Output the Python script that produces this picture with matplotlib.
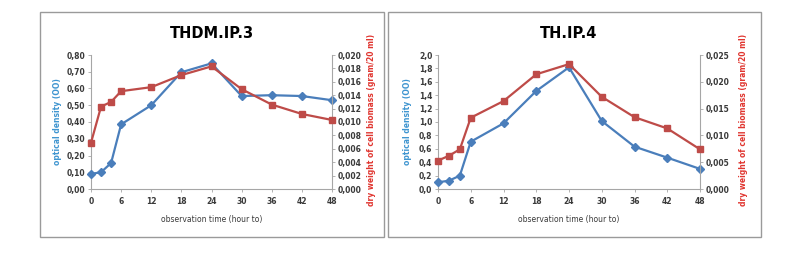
import numpy as np
import matplotlib.pyplot as plt
from matplotlib.patches import Rectangle

# data
hours = [0, 2, 4, 6, 12, 18, 24, 30, 36, 42, 48]

od_thdm = [0.09, 0.10, 0.155, 0.386, 0.50, 0.697, 0.75, 0.555, 0.56, 0.555, 0.53]
bio_thdm = [0.0069, 0.0123, 0.0130, 0.0146, 0.0152, 0.0170, 0.0183, 0.0149, 0.0126, 0.0112, 0.0103]

od_th = [0.10, 0.124, 0.199, 0.706, 0.98, 1.463, 1.816, 1.015, 0.632, 0.468, 0.30]
bio_th = [0.0053, 0.0062, 0.0074, 0.0133, 0.0164, 0.0214, 0.0233, 0.0172, 0.0134, 0.0113, 0.0074]

xticks = [0, 6, 12, 18, 24, 30, 36, 42, 48]

W, H = 806, 257
fig = plt.figure(figsize=(W / 100, H / 100), dpi=100)

blue = '#4A7EBB'
red = '#BE4B48'
grey = '#A6A6A6'
txt = '#3A3A3A'


def box(x0, y0, x1, y1):
    fig.patches.append(Rectangle((x0 / W, 1 - y1 / H), (x1 - x0) / W, (y1 - y0) / H,
                                 transform=fig.transFigure, fill=False,
                                 edgecolor='#9A9A9A', linewidth=1.0))


def panel(x0, x1, title, od, bio, od_max, od_step, od_fmt, bio_max, bio_step, bio_fmt, ylx, yrx):
    top, bot = 55, 189
    ax = fig.add_axes([x0 / W, 1 - bot / H, (x1 - x0) / W, (bot - top) / H])
    ax2 = ax.twinx()
    ax.plot(hours, od, color=blue, lw=1.6, marker='D', ms=4, mfc=blue, mec=blue, zorder=3, clip_on=False)
    ax2.plot(hours, bio, color=red, lw=1.6, marker='s', ms=5, mfc=red, mec=red, zorder=3, clip_on=False)
    ax.set_xlim(0, 48)
    ax.set_xticks(xticks)
    ax.set_ylim(0, od_max)
    ax.set_yticks(np.arange(0, od_max + od_step / 2, od_step))
    ax.set_yticklabels([od_fmt.format(v).replace('.', ',') for v in ax.get_yticks()])
    ax2.set_ylim(0, bio_max)
    ax2.set_yticks(np.arange(0, bio_max + bio_step / 2, bio_step))
    ax2.set_yticklabels([bio_fmt.format(v).replace('.', ',') for v in ax2.get_yticks()])
    for a in (ax, ax2):
        for s in a.spines.values():
            s.set_visible(False)
        a.tick_params(labelsize=5.5, colors=txt, length=2, width=0.6, pad=2, color=grey)
        for lab in a.get_xticklabels() + a.get_yticklabels():
            lab.set_fontweight('bold')
    ax.spines['left'].set_visible(True)
    ax.spines['bottom'].set_visible(True)
    ax2.spines['right'].set_visible(True)
    ax.spines['left'].set_color(grey)
    ax.spines['bottom'].set_color(grey)
    ax2.spines['right'].set_color(grey)
    ax.tick_params(axis='x', pad=4)
    ax.set_xlabel('observation time (hour to)', fontsize=5.5, color=txt, labelpad=6)
    fig.text(ylx / W, 1 - 122 / H, 'optical density (OO)', rotation=90, ha='center', va='center',
             fontsize=5.5, color='#3F95D0', fontweight='bold')
    fig.text(yrx / W, 1 - 120 / H, 'dry weight of cell biomass (gram/20 ml)', rotation=90,
             ha='center', va='center', fontsize=5.5, color='#E0352F', fontweight='bold')
    fig.text((x0 + x1) / 2 / W, 1 - 33 / H, title, ha='center', va='center',
             fontsize=10.5, fontweight='bold', color='black')


box(40, 12, 384, 237)
box(388, 12, 761, 237)

panel(91, 332, 'THDM.IP.3', od_thdm, bio_thdm, 0.80, 0.10, '{:.2f}', 0.020, 0.002, '{:.3f}', 58, 372)
panel(438, 700, 'TH.IP.4', od_th, bio_th, 2.0, 0.2, '{:.1f}', 0.025, 0.005, '{:.3f}', 408, 743)

fig.savefig('out.png', dpi=100)
